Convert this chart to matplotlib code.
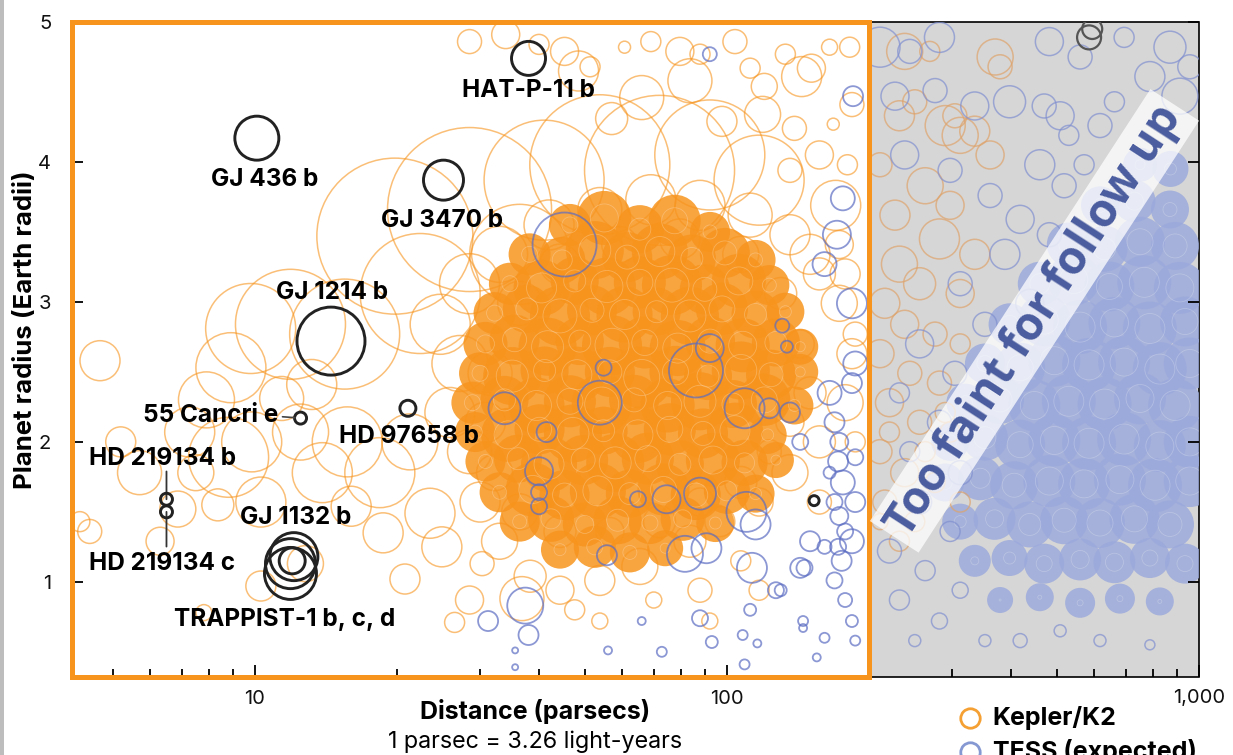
import matplotlib.pyplot as plt
import matplotlib.patches as mpatches
from matplotlib.lines import Line2D
from matplotlib.ticker import FixedLocator
import numpy as np

plt.rcParams['font.family'] = ['Inter', 'DejaVu Sans']

# ---- data: distance (pc), radius (Earth radii), bubble radius (px) ----
# Kepler/K2, sparse rings
kepler_dist = [28.5, 45.3, 51.3, 48.5, 60.7, 69, 79.5, 87.7, 83.5, 104, 112, 120, 133, 151, 165,
               97.6, 119, 139, 168, 57, 66, 144, 184, 34, 40, 182, 157, 180, 136,
               19.8, 28.5, 41, 53.8, 72, 92, 117, 15.5, 11.9, 9.8, 22.4, 36.4, 170, 150, 178,
               4.70, 4.47, 5.70, 7.28, 7.9, 8.8, 6.87, 8.35, 9.85, 10.3, 13.9, 15.7, 11.4, 8.9,
               13.2, 16.0, 10.3, 12.8, 7.8, 20.8, 24.9, 23.5, 18.7, 26.5, 30.3, 36.8, 5.2, 4.26,
               6.3, 18.4, 21.3, 12.5, 7.5, 28.5,
               24.7, 27.2, 25.9, 28.5, 30.0, 33.0, 38.3, 44.3, 53.8, 65.4, 83.5, 96.6, 117, 136,
               157, 178, 184, 173, 157, 136, 112, 87.7, 69, 53.8, 42, 33, 28.5, 36.4, 44.3, 59.3,
               79.5, 107, 130, 143, 150, 136, 123, 107, 87.7, 72, 56.5, 44.3, 36.4, 32.2, 30.8,
               31.5, 87.7, 107, 157, 53.8, 47.6, 70, 92, 117, 173, 187, 187]
kepler_rad = [4.86, 4.79, 4.68, 4.65, 4.82, 4.86, 4.79, 4.77, 4.58, 4.86, 4.67, 4.54, 4.77, 4.67, 4.82,
              4.29, 4.34, 4.24, 4.27, 4.31, 4.46, 4.61, 4.41, 4.91, 4.84, 4.82, 4.05, 3.98, 3.94,
              3.47, 3.66, 3.87, 3.98, 3.94, 4.05, 3.87, 2.77, 2.84, 2.81, 3.06, 3.34, 3.69, 3.34, 3.20,
              2.58, 1.36, 1.78, 2.07, 2.30, 1.89, 1.52, 1.55, 2.00, 1.57, 1.78, 2.00, 2.31, 2.53,
              2.41, 1.54, 0.97, 1.13, 0.78, 1.02, 1.25, 1.49, 1.35, 0.71, 1.13, 0.88, 2.00, 1.43,
              1.29, 1.78, 2.00, 2.07, 1.78, 0.87,
              2.84, 2.56, 2.21, 1.93, 1.57, 1.29, 1.04, 0.94, 1.01, 1.11, 1.29, 1.43, 1.57, 1.78,
              2.00, 2.28, 2.63, 2.99, 3.20, 3.48, 3.62, 3.69, 3.73, 3.66, 3.55, 3.34, 3.13, 2.99, 3.27, 3.41,
              3.45, 3.34, 3.06, 2.70, 2.35, 2.14, 1.93, 1.71, 1.57, 1.43, 1.36, 1.36, 1.50, 1.78, 2.14,
              2.49, 0.94, 1.15, 1.57, 0.72, 0.80, 0.87, 0.72, 0.94, 3.41, 2.77, 2.00]
kepler_bub = [12, 14, 10, 20, 6, 10, 14, 10, 22, 12, 10, 13, 10, 14, 8,
              15, 18, 12, 6, 16, 22, 20, 12, 14, 10, 10, 14, 10, 12,
              78, 82, 60, 70, 75, 55, 45, 55, 55, 45, 60, 50, 25, 20, 15,
              20, 12, 22, 25, 28, 40, 18, 16, 30, 25, 30, 35, 22, 35,
              25, 20, 15, 18, 8, 15, 20, 25, 20, 10, 12, 22, 15, 10,
              14, 35, 28, 28, 18, 14,
              30, 28, 25, 22, 20, 18, 16, 14, 15, 18, 16, 15, 14, 18,
              16, 18, 15, 18, 16, 20, 22, 25, 25, 22, 25, 28, 30, 22, 20, 18,
              20, 18, 16, 14, 16, 14, 12, 16, 14, 16, 14, 16, 18, 18, 20,
              22, 12, 10, 12, 8, 10, 8, 8, 10, 14, 12, 10]

# Kepler/K2, dense core
core_dist = [46.5, 55, 65.4, 77.5, 92.1,
             38.2, 44.8, 52.5, 61.5, 72.1, 84.3, 99, 115,
             34.7, 40.5, 47.6, 55.7, 65.4, 76.5, 89.8, 106, 123,
             32.2, 37.7, 44.3, 51.8, 60.7, 71, 83.5, 97.6, 115, 133,
             30.8, 35.5, 41.7, 48.8, 57.1, 67, 78.7, 92.1, 108, 127, 143,
             30.0, 35.1, 41.1, 48.1, 56.5, 66, 77.8, 91.2, 107, 124, 143,
             28.9, 33.8, 39.5, 46.5, 54.3, 63.6, 74.9, 87.7, 103, 120, 139,
             29.3, 34.4, 40.1, 47.2, 54.8, 64.8, 75.7, 89, 104, 122,
             30.8, 36.1, 42, 49.6, 58, 68, 79.5, 93.4, 109, 127,
             33, 38.8, 45.3, 53.3, 62.3, 73.4, 85.9, 100, 115,
             36.4, 42.4, 50, 58.7, 68.7, 80.6, 94.5,
             44.3, 52.5, 62.3, 74]
core_rad = [3.55, 3.60, 3.52, 3.58, 3.50,
            3.34, 3.30, 3.37, 3.32, 3.36, 3.31, 3.35, 3.30,
            3.13, 3.10, 3.15, 3.11, 3.14, 3.12, 3.09, 3.15, 3.12,
            2.92, 2.95, 2.90, 2.94, 2.91, 2.93, 2.90, 2.95, 2.91, 2.93,
            2.70, 2.73, 2.68, 2.72, 2.69, 2.71, 2.67, 2.72, 2.69, 2.71, 2.68,
            2.49, 2.47, 2.51, 2.48, 2.50, 2.46, 2.50, 2.47, 2.51, 2.48, 2.50,
            2.28, 2.30, 2.26, 2.29, 2.27, 2.30, 2.26, 2.29, 2.27, 2.30, 2.26,
            2.07, 2.05, 2.09, 2.06, 2.08, 2.05, 2.09, 2.06, 2.08, 2.05,
            1.86, 1.88, 1.84, 1.87, 1.85, 1.88, 1.84, 1.87, 1.85, 1.87,
            1.64, 1.66, 1.62, 1.65, 1.63, 1.66, 1.62, 1.65, 1.63,
            1.43, 1.45, 1.41, 1.44, 1.42, 1.45, 1.42,
            1.23, 1.25, 1.21, 1.24]
core_bub = [12, 18, 15, 17, 11,
            12, 14, 20, 16, 19, 15, 16, 11,
            12, 19, 15, 20, 17, 21, 16, 18, 11,
            12, 15, 21, 16, 19, 15, 20, 17, 15, 10,
            13, 16, 20, 15, 21, 17, 19, 16, 18, 15, 9,
            12, 20, 15, 19, 16, 22, 17, 15, 20, 16, 9,
            12, 15, 19, 17, 21, 16, 18, 20, 15, 17, 10,
            11, 18, 16, 20, 15, 19, 17, 16, 19, 10,
            11, 15, 19, 16, 20, 17, 15, 18, 14, 9,
            11, 18, 16, 19, 15, 17, 16, 14, 10,
            11, 14, 13, 15, 12, 13, 10,
            10, 12, 11, 9]

# TESS (expected), inside the follow-up range
tess_dist = [45.3, 86, 92, 54.8, 53.8, 33.8, 41.5, 40, 40, 40, 55.7, 64.8, 74.5, 87.7, 90.5, 81.5,
             110, 115, 113, 146, 109, 123, 136, 143, 37.4, 38, 31.2, 35.6, 35.6, 66, 56, 72.8,
             92.9, 87.7, 112, 130, 108, 116, 109, 145, 145, 155, 161,
             169, 173, 172, 176, 169, 173, 178, 172, 175, 169, 178, 184, 165, 187, 184, 161,
             187, 165, 184, 187, 176, 171, 161, 131, 134, 185, 92, 184, 187, 150, 143, 127]
tess_rad = [3.41, 2.51, 2.67, 2.53, 2.28, 2.24, 2.07, 1.79, 1.64, 1.54, 1.19, 1.59, 1.59, 1.63, 1.24, 1.20,
            1.50, 1.41, 1.10, 1.10, 2.24, 2.24, 2.21, 2.00, 0.83, 0.62, 0.72, 0.51, 0.39, 0.72, 0.51, 0.50,
            0.57, 0.74, 0.80, 0.94, 0.62, 0.56, 0.41, 0.72, 0.67, 0.46, 0.60,
            2.14, 2.00, 1.86, 1.71, 1.57, 1.47, 1.36, 1.25, 1.15, 1.01, 0.87, 0.72, 1.78, 1.57, 1.29, 1.25,
            1.89, 2.35, 2.42, 0.58, 3.74, 3.48, 3.27, 2.83, 2.68, 4.47, 4.77, 2.99, 2.56, 1.29, 1.10, 0.94]
tess_bub = [32, 27, 14, 8, 22, 16, 10, 14, 8, 8, 10, 8, 14, 16, 15, 18,
            20, 15, 15, 8, 20, 10, 10, 8, 18, 10, 10, 3, 3, 4, 4, 5,
            6, 8, 6, 6, 5, 4, 5, 5, 4, 4, 5,
            10, 9, 10, 12, 8, 9, 8, 8, 10, 8, 7, 6, 6, 10, 12, 7,
            8, 12, 10, 5, 12, 14, 12, 7, 6, 10, 7, 15, 12, 10, 10, 8]

# beyond 200 pc (too faint): Kepler/K2 rings
far_kepler_dist = [238, 269, 370, 379, 290, 312, 335, 304, 232, 250, 361, 211, 263, 297, 227, 282,
                   335, 232, 256, 312, 216, 238, 276, 312, 211, 244, 282, 221, 256, 297, 211, 238,
                   276, 216, 250, 221, 263, 232, 211, 312, 290]
far_kepler_rad = [4.79, 4.79, 4.75, 4.68, 4.26, 4.19, 4.22, 4.33, 4.33, 4.43, 4.05, 3.98, 3.83, 3.69,
                  3.62, 3.45, 3.34, 3.27, 3.13, 3.06, 2.99, 2.84, 2.77, 2.70, 2.63, 2.49, 2.42, 2.28,
                  2.14, 2.07, 1.93, 1.78, 1.71, 1.57, 1.43, 2.07, 1.93, 1.29, 1.43, 1.57, 2.21]
far_kepler_bub = [18, 10, 18, 12, 20, 18, 15, 12, 15, 12, 14, 12, 18, 14, 15, 20, 15, 18, 16, 14, 15,
                  14, 12, 10, 14, 12, 12, 14, 12, 10, 12, 14, 10, 12, 10, 10, 10, 10, 8, 10, 10]

# beyond 200 pc: TESS rings
far_tess_dist = [211, 244, 282, 482, 560, 868, 956, 787, 911, 694, 227, 276, 335, 397, 470, 530,
                 508, 617, 662, 460, 518, 571, 361, 418, 482, 238, 297, 388, 312, 438, 352, 256,
                 304, 232, 282, 244, 312, 256, 297, 221, 263, 312, 232, 282, 352, 250, 418, 508,
                 617, 787]
far_tess_rad = [4.82, 4.79, 4.89, 4.86, 4.75, 4.82, 4.68, 4.61, 4.47, 4.89, 4.47, 4.51, 4.40, 4.43,
                4.40, 4.19, 4.33, 4.26, 4.43, 3.98, 3.83, 3.98, 3.76, 3.59, 3.48, 4.05, 3.94, 3.34,
                3.13, 2.99, 2.84, 2.70, 2.49, 2.35, 2.14, 1.93, 1.78, 1.57, 1.36, 1.22, 1.08, 0.94,
                0.87, 0.72, 0.58, 0.58, 0.58, 0.65, 0.58, 0.55]
far_tess_bub = [20, 12, 15, 14, 12, 16, 12, 15, 18, 10, 14, 12, 14, 16, 12, 10, 14, 12, 10, 15, 12,
                10, 12, 14, 12, 14, 12, 15, 12, 14, 12, 14, 12, 10, 12, 10, 12, 12, 10, 12, 10, 8,
                10, 8, 6, 6, 7, 6, 6, 5]

# beyond 200 pc: dense TESS cloud
far_core_dist = [750, 870,
                 617, 730, 868,
                 530, 631, 750, 890,
                 460, 543, 646, 766, 911,
                 397, 470, 560, 662, 787, 934,
                 352, 418, 494, 585, 694, 826, 956,
                 320, 379, 448, 530, 631, 750, 890,
                 297, 352, 418, 494, 585, 694, 826, 956,
                 290, 344, 406, 482, 571, 680, 807, 956,
                 312, 369, 438, 518, 617, 730, 868,
                 335, 397, 470, 560, 662, 787, 934,
                 379, 460, 560, 680, 826]
far_core_rad = [3.98, 3.95,
                3.69, 3.72, 3.66,
                3.41, 3.38, 3.43, 3.40,
                3.13, 3.16, 3.11, 3.14, 3.10,
                2.84, 2.87, 2.82, 2.85, 2.81, 2.86,
                2.56, 2.53, 2.58, 2.55, 2.57, 2.52, 2.56,
                2.28, 2.30, 2.26, 2.29, 2.27, 2.31, 2.26,
                2.00, 2.03, 1.98, 2.01, 1.99, 2.02, 1.97, 2.00,
                1.71, 1.74, 1.69, 1.72, 1.70, 1.73, 1.69, 1.72,
                1.43, 1.45, 1.41, 1.44, 1.42, 1.45, 1.41,
                1.15, 1.17, 1.13, 1.16, 1.14, 1.17, 1.13,
                0.87, 0.89, 0.85, 0.88, 0.86]
far_core_bub = [8, 9,
                10, 12, 10,
                13, 14, 16, 15,
                13, 17, 16, 18, 17,
                12, 17, 18, 17, 18, 16,
                11, 16, 17, 18, 17, 18, 17,
                10, 15, 17, 18, 18, 17, 18,
                10, 14, 16, 17, 18, 18, 17, 17,
                10, 13, 15, 17, 17, 17, 18, 17,
                9, 12, 14, 15, 16, 16, 15,
                7, 9, 11, 12, 12, 11, 11,
                4, 5, 6, 6, 5]

# named planets
planet_names = ['HAT-P-11 b', 'GJ 436 b', 'GJ 3470 b', 'GJ 1214 b', '55 Cancri e', 'HD 97658 b',
                'HD 219134 b', 'HD 219134 c', 'GJ 1132 b', 'TRAPPIST-1 b', 'TRAPPIST-1 c', 'TRAPPIST-1 d']
planet_dist = [38.0, 10.1, 25.1, 14.5, 12.5, 21.1, 6.5, 6.5, 12.1, 11.9, 11.9, 12.0]
planet_rad = [4.74, 4.17, 3.87, 2.72, 2.17, 2.24, 1.59, 1.50, 1.18, 1.13, 1.06, 1.15]
planet_bub = [17, 22, 20, 34, 6, 8, 6, 6, 24, 25, 26, 13]
other_dist = [153, 585, 594]
other_rad = [1.58, 4.89, 4.95]
other_bub = [5, 12, 10]

ORANGE = '#f7941d'
BLUE = '#5b6cc2'
LAVENDER = '#9ba9dc'


def bub(b):
    return (np.asarray(b) * 2 * 0.72) ** 2


fig = plt.figure(figsize=(12.33, 7.55), dpi=100)
ax = fig.add_axes([72 / 1233, 78 / 755, 1127 / 1233, 655 / 755])
ax.set_xscale('log')
x0, x1, y0, y1 = 4.1, 1000, 0.32, 5.0
ax.set_xlim(x0, x1)
ax.set_ylim(y0, y1)
for s in ax.spines.values():
    s.set_visible(False)

near = mpatches.Rectangle((x0, y0), 200 - x0, y1 - y0, transform=ax.transData)
far = mpatches.Rectangle((200, y0), x1 - 200, y1 - y0, transform=ax.transData)

# gray "too faint" zone
ax.add_patch(mpatches.Rectangle((200, y0), x1 - 200, y1 - y0, facecolor='#d6d6d6',
                                edgecolor='black', lw=1.2, zorder=0, clip_on=False))

# far zone circles
sc = ax.scatter(far_core_dist, far_core_rad, s=bub(np.asarray(far_core_bub) + 9), facecolor=LAVENDER,
                edgecolor='none', alpha=0.82, zorder=1)
sc.set_clip_path(far)
sc = ax.scatter(far_core_dist, far_core_rad, s=bub(np.asarray(far_core_bub) - 3), facecolor='none',
                edgecolor='#dfe3f2', lw=0.6, alpha=0.35, zorder=1)
sc.set_clip_path(far)
sc = ax.scatter(far_kepler_dist, far_kepler_rad, s=bub(far_kepler_bub), facecolor='none',
                edgecolor='#dea36b', lw=1.1, alpha=0.7, zorder=1)
sc.set_clip_path(far)
sc = ax.scatter(far_tess_dist, far_tess_rad, s=bub(far_tess_bub), facecolor='none',
                edgecolor='#8190d0', lw=1.1, alpha=0.7, zorder=1)
sc.set_clip_path(far)

# Kepler/K2
sc = ax.scatter(kepler_dist, kepler_rad, s=bub(kepler_bub), facecolor='none',
                edgecolor=ORANGE, lw=1.1, alpha=0.6, zorder=2)
sc.set_clip_path(near)
sc = ax.scatter(core_dist, core_rad, s=bub(np.asarray(core_bub) + 9), facecolor=ORANGE,
                edgecolor='none', alpha=0.85, zorder=2)
sc.set_clip_path(near)
sc = ax.scatter(core_dist, core_rad, s=bub(np.asarray(core_bub) - 4), facecolor='none',
                edgecolor='#fde3c4', lw=0.6, alpha=0.35, zorder=2)
sc.set_clip_path(near)

# TESS
sc = ax.scatter(tess_dist, tess_rad, s=bub(tess_bub), facecolor='none',
                edgecolor=BLUE, lw=1.3, alpha=0.7, zorder=3)
sc.set_clip_path(near)

# named planets
ax.scatter(planet_dist, planet_rad, s=bub(planet_bub), facecolor='none',
           edgecolor='#222222', lw=2.1, zorder=5)
ax.scatter(other_dist[:1], other_rad[:1], s=bub(other_bub[:1]), facecolor='none',
           edgecolor='#222222', lw=2.1, zorder=5)
sc = ax.scatter(other_dist[1:], other_rad[1:], s=bub(other_bub[1:]), facecolor='none',
                edgecolor='#555555', lw=1.6, zorder=5)
sc.set_clip_path(far)

# orange frame for the follow-up range
ax.add_patch(mpatches.Rectangle((x0, y0), 200 - x0, y1 - y0, fill=False, edgecolor=ORANGE,
                                lw=3.6, zorder=8, clip_on=False))

lab = dict(fontsize=17.5, fontweight='bold', color='black', zorder=9, ha='center', va='center',
           textcoords='offset points')
offsets = {'HAT-P-11 b': (0, -23), 'GJ 436 b': (6, -30), 'GJ 3470 b': (-1, -29),
           'GJ 1214 b': (1, 35), 'HD 97658 b': (1, -20), 'HD 219134 b': (-3, 29),
           'HD 219134 c': (-3, -37), 'GJ 1132 b': (1, 28)}
for name, d, r in zip(planet_names, planet_dist, planet_rad):
    if name in offsets:
        ax.annotate(name, (d, r), xytext=offsets[name], **lab)
i = planet_names.index('55 Cancri e')
ax.annotate('55 Cancri e', (planet_dist[i], planet_rad[i]), xytext=(-16, 2),
            fontsize=17.5, fontweight='bold', ha='right', va='center', textcoords='offset points',
            arrowprops=dict(arrowstyle='-', color='#444444', lw=1.2, shrinkA=1, shrinkB=4,
                            relpos=(1, 0.45)), zorder=9)
i = planet_names.index('TRAPPIST-1 b')
ax.annotate('TRAPPIST-1 b, c, d', (planet_dist[i], planet_rad[i]), xytext=(-4, -40), **lab)
ib, ic = planet_names.index('HD 219134 b'), planet_names.index('HD 219134 c')
ax.annotate('', (planet_dist[ib], planet_rad[ib]), xytext=(0, 20), textcoords='offset points',
            arrowprops=dict(arrowstyle='-', color='#333333', lw=1.3, shrinkA=0, shrinkB=0))
ax.annotate('', (planet_dist[ic], planet_rad[ic]), xytext=(0, -25), textcoords='offset points',
            arrowprops=dict(arrowstyle='-', color='#333333', lw=1.3, shrinkA=0, shrinkB=0))

# ticks
ax.set_xticks([10, 100, 1000])
ax.set_xticklabels(['10', '100', '1,000'])
ax.xaxis.set_minor_locator(FixedLocator([5, 6, 7, 8, 9, 20, 30, 40, 50, 60, 70, 80, 90,
                                         200, 300, 400, 500, 600, 700, 800, 900]))
ax.xaxis.set_minor_formatter(plt.NullFormatter())
ax.set_yticks([1, 2, 3, 4, 5])
ax.set_yticklabels(['1', '2', '3', '4', '5'])
ax.tick_params(which='both', direction='in', color='black', labelsize=14.5, labelcolor='#111111')
ax.tick_params(axis='x', which='major', length=9, width=1.3, pad=9)
ax.tick_params(axis='x', which='minor', length=6, width=1.3)
ax.tick_params(axis='y', which='major', length=8, width=1.3, pad=15, right=True)

# too faint label
fig.text(0.839, 0.575, 'Too faint for follow up', rotation=57, rotation_mode='anchor',
         ha='center', va='center', fontsize=33, fontweight='bold', color='#4a5c9e',
         family=['Open Sans', 'DejaVu Sans'], zorder=10,
         bbox=dict(boxstyle='square,pad=0.12', facecolor='white', edgecolor='none', alpha=0.75))

# axis titles
fig.text(0.021, 0.563, 'Planet radius (Earth radii)', rotation=90, ha='center', va='center',
         fontsize=18.5, fontweight='bold')
fig.text(0.434, 0.058, 'Distance (parsecs)', ha='center', va='center', fontsize=18, fontweight='bold')
fig.text(0.434, 0.017, '1 parsec = 3.26 light-years', ha='center', va='center', fontsize=16.8)

# legend
fig.add_artist(Line2D([0.787], [0.049], marker='o', markersize=14, markerfacecolor='none',
                      markeredgecolor='#f5a033', markeredgewidth=2, transform=fig.transFigure))
fig.add_artist(Line2D([0.787], [0.004], marker='o', markersize=14, markerfacecolor='none',
                      markeredgecolor='#8598d2', markeredgewidth=2, transform=fig.transFigure))
fig.text(0.805, 0.049, 'Kepler/K2', ha='left', va='center', fontsize=18, fontweight='bold')
fig.text(0.805, 0.004, 'TESS (expected)', ha='left', va='center', fontsize=18, fontweight='bold')

# left page edge
fig.add_artist(mpatches.Rectangle((0, 0), 4 / 1233, 1, transform=fig.transFigure,
                                  facecolor='#bdbdbd', edgecolor='none'))

fig.savefig('out.png', dpi=100)
